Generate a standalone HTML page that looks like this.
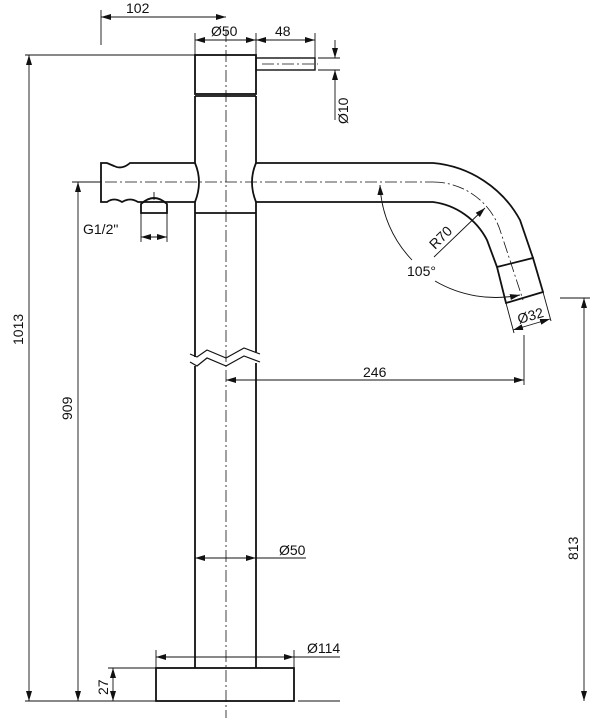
<!DOCTYPE html>
<html><head><meta charset="utf-8"><style>
html,body{margin:0;padding:0;background:#fff;}
svg{display:block;}
text{font-family:"Liberation Sans",sans-serif;font-size:14px;fill:#111;}
</style></head><body>
<svg width="600" height="726" viewBox="0 0 600 726" xmlns="http://www.w3.org/2000/svg">
<defs>
<marker id="a" viewBox="0 0 10 6" refX="10" refY="3" markerWidth="10" markerHeight="6" orient="auto-start-reverse" markerUnits="userSpaceOnUse"><path d="M0,0 L10,3 L0,6 z" fill="#111"/></marker>
</defs>
<g stroke="#111" fill="none">
<g stroke-width="0.8" stroke-dasharray="12,3,2,3">
<line x1="226" y1="30" x2="226" y2="718"/>
<line x1="85" y1="182" x2="433" y2="182"/>
<path d="M433,182 A71,71 0 0 1 501,233 L523,300"/>
<line x1="262" y1="64" x2="318" y2="64"/>
</g>
<g stroke-width="1.8">
<rect x="195" y="55" width="61" height="39"/>
<rect x="256" y="58" width="59" height="12" stroke-width="1.4"/>
<line x1="195" y1="96" x2="256" y2="96"/>
<line x1="195" y1="96" x2="195" y2="163"/>
<line x1="256" y1="96" x2="256" y2="163"/>
<path d="M195,163 Q203,182 195,202"/>
<path d="M256,163 Q248,182 256,202"/>
<line x1="195" y1="213" x2="256" y2="213"/>
<line x1="195" y1="202" x2="195" y2="357"/>
<line x1="256" y1="202" x2="256" y2="352"/>
<line x1="195" y1="366" x2="195" y2="668"/>
<line x1="256" y1="363" x2="256" y2="668"/>
<rect x="156" y="668" width="138" height="33"/>
<path d="M195,163 L130,163 Q122,170 114,166 L107,163 L101,163 L101,202 L107,202 Q114,197 122,202 Q130,197 138,202 L195,202"/>
<path d="M141,213 L141,204 Q154,192 167,204 L167,213 Z"/>
<path d="M256,163 L433,163 A110,110 0 0 1 520,220 L533,258"/>
<path d="M256,202 L433,202 A71,71 0 0 1 487,240 L497,267"/>
<path d="M497,267 L533,258 L543,292 L506,303 Z"/>
</g>
<g stroke-width="1.2">
<path d="M190,354 L197,357 L207,350 L226,358 L244,348 L260,354"/>
<path d="M190,362 L197,366 L207,358 L226,366 L244,356 L260,362"/>
</g>
<g stroke-width="0.9">
<line x1="101" y1="10" x2="101" y2="45"/>
<line x1="101" y1="17" x2="226" y2="17" marker-start="url(#a)" marker-end="url(#a)"/>
<line x1="195" y1="33" x2="195" y2="55"/>
<line x1="256" y1="33" x2="256" y2="55"/>
<line x1="315" y1="33" x2="315" y2="58"/>
<line x1="195" y1="40" x2="256" y2="40" marker-start="url(#a)" marker-end="url(#a)"/>
<line x1="256" y1="40" x2="315" y2="40" marker-start="url(#a)" marker-end="url(#a)"/>
<line x1="318" y1="58" x2="340" y2="58"/>
<line x1="318" y1="70" x2="340" y2="70"/>
<line x1="335" y1="40" x2="335" y2="58" marker-end="url(#a)"/>
<line x1="335" y1="120" x2="335" y2="70" marker-end="url(#a)"/>
<line x1="25" y1="55" x2="195" y2="55"/>
<line x1="25" y1="701" x2="156" y2="701"/>
<line x1="298" y1="701" x2="340" y2="701"/>
<line x1="29" y1="55" x2="29" y2="701" marker-start="url(#a)" marker-end="url(#a)"/>
<line x1="72" y1="182" x2="100" y2="182"/>
<line x1="78" y1="182" x2="78" y2="701" marker-start="url(#a)" marker-end="url(#a)"/>
<line x1="560" y1="298" x2="590" y2="298"/>
<line x1="584" y1="298" x2="584" y2="701" marker-start="url(#a)" marker-end="url(#a)"/>
<line x1="524" y1="335" x2="524" y2="385"/>
<line x1="226" y1="380" x2="524" y2="380" marker-start="url(#a)" marker-end="url(#a)"/>
<line x1="195" y1="558" x2="256" y2="558" marker-start="url(#a)" marker-end="url(#a)"/>
<line x1="256" y1="558" x2="306" y2="558"/>
<line x1="156" y1="650" x2="156" y2="668"/>
<line x1="294" y1="650" x2="294" y2="668"/>
<line x1="156" y1="657" x2="294" y2="657" marker-start="url(#a)" marker-end="url(#a)"/>
<line x1="294" y1="657" x2="340" y2="657"/>
<line x1="108" y1="668" x2="156" y2="668"/>
<line x1="113" y1="668" x2="113" y2="701" marker-start="url(#a)" marker-end="url(#a)"/>
<line x1="141" y1="213" x2="141" y2="242"/>
<line x1="167" y1="213" x2="167" y2="242"/>
<line x1="141" y1="237" x2="167" y2="237" marker-start="url(#a)" marker-end="url(#a)"/>
<line x1="154" y1="192" x2="154" y2="200"/>
<line x1="434" y1="257" x2="485" y2="208" marker-end="url(#a)"/>
<path d="M380,185 A115,115 0 0 0 412,260" marker-start="url(#a)"/>
<path d="M435,281 A120,120 0 0 0 520,295" marker-end="url(#a)"/>
<line x1="506" y1="303" x2="514" y2="333"/>
<line x1="543" y1="292" x2="551" y2="321"/>
<line x1="513" y1="330" x2="550" y2="319" marker-start="url(#a)" marker-end="url(#a)"/>
</g>
</g>
<text x="126" y="13">102</text>
<text x="211" y="36">Ø50</text>
<text x="275" y="36">48</text>
<text transform="translate(348,124) rotate(-90)">Ø10</text>
<text transform="translate(23,345) rotate(-90)">1013</text>
<text transform="translate(72,420) rotate(-90)">909</text>
<text transform="translate(578,560) rotate(-90)">813</text>
<text x="83" y="234">G1/2"</text>
<text transform="translate(435,250) rotate(-45)">R70</text>
<text x="407" y="276">105°</text>
<text transform="translate(519,324) rotate(-16)">Ø32</text>
<text x="363" y="377">246</text>
<text x="279" y="555">Ø50</text>
<text x="307" y="653">Ø114</text>
<text transform="translate(108,695) rotate(-90)">27</text>
</svg>
</body></html>
